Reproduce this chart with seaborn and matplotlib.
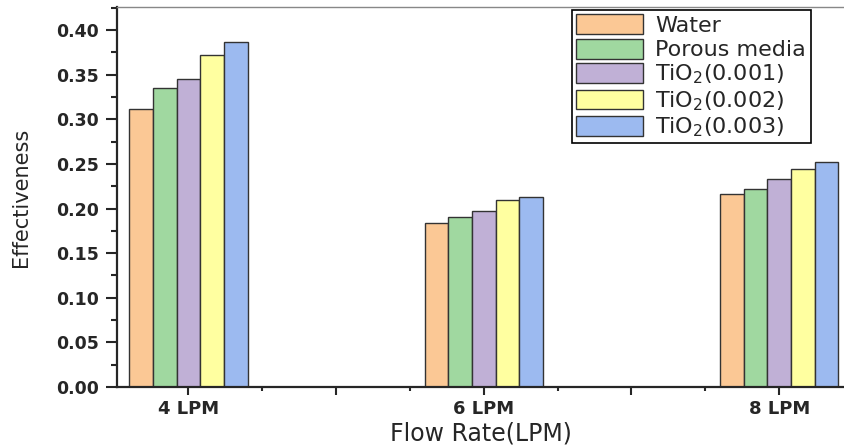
import matplotlib
matplotlib.use("Agg")
import matplotlib.pyplot as plt
import seaborn as sns
import pandas as pd
from matplotlib.ticker import FormatStrFormatter, MultipleLocator

# data
flow_rates = ['4 LPM', '6 LPM', '8 LPM']
fluids = ['Water', 'Porous media', r'TiO$_2$(0.001)', r'TiO$_2$(0.002)', r'TiO$_2$(0.003)']
water = [0.311, 0.184, 0.216]
porous = [0.335, 0.191, 0.222]
tio2_001 = [0.345, 0.197, 0.233]
tio2_002 = [0.372, 0.209, 0.244]
tio2_003 = [0.387, 0.213, 0.252]
colors = ['#FBC895', '#A0D8A0', '#C0B0D6', '#FFFFA0', '#9CBAF0']

values = [water, porous, tio2_001, tio2_002, tio2_003]
df = pd.DataFrame({
    'Flow': flow_rates * len(fluids),
    'Fluid': [f for f in fluids for _ in flow_rates],
    'Effectiveness': [v for series in values for v in series],
})

sns.set_style('ticks')
plt.rcParams['font.family'] = ['DejaVu Sans']
plt.rcParams['mathtext.default'] = 'regular'

fig = plt.figure(figsize=(8.45, 4.48), dpi=100)
ax = fig.add_axes([117 / 845, 61 / 448, 728 / 845, 380 / 448])

sns.barplot(data=df, x='Flow', y='Effectiveness', hue='Fluid', hue_order=fluids,
            palette=colors, width=0.4, gap=0, saturation=1,
            edgecolor='#333333', linewidth=1.0, ax=ax)

ax.set_xlim(-0.242, 2.223)
ax.set_ylim(0, 0.4258)

# axes look
ax.spines['right'].set_visible(False)
ax.spines['top'].set_color('#888888')
ax.spines['top'].set_linewidth(1.0)
ax.spines['left'].set_linewidth(1.6)
ax.spines['bottom'].set_linewidth(1.6)

ax.set_xticks([0, 0.5, 1, 1.5, 2], labels=['4 LPM', '', '6 LPM', '', '8 LPM'])
ax.set_xticks([0.25, 0.75, 1.25, 1.75], minor=True)
ax.yaxis.set_major_locator(MultipleLocator(0.05))
ax.yaxis.set_minor_locator(MultipleLocator(0.025))
ax.yaxis.set_major_formatter(FormatStrFormatter('%.2f'))

ax.tick_params(axis='y', which='major', direction='out', length=8, width=1.5,
               pad=5, labelsize=12.5)
ax.tick_params(axis='y', which='minor', direction='out', length=4, width=1.5)
ax.tick_params(axis='x', which='major', direction='out', length=6, width=1.5,
               pad=3, labelsize=13)
ax.tick_params(axis='x', which='minor', direction='out', length=3, width=1.5)
for lab in ax.get_xticklabels() + ax.get_yticklabels():
    lab.set_fontweight('bold')

ax.set_xlabel('Flow Rate(LPM)', fontsize=17)
ax.xaxis.set_label_coords(0.5, -0.09)
ax.set_ylabel('Effectiveness', fontsize=15)
ax.yaxis.set_label_coords(-0.118, 0.5)

handles, labels = ax.get_legend_handles_labels()
ax.legend(handles, labels, loc='upper left',
          bbox_to_anchor=(572 / 845, 1 - 10 / 448), bbox_transform=fig.transFigure,
          fontsize=16, frameon=True, fancybox=False, edgecolor='black',
          framealpha=1, borderpad=0.2, borderaxespad=0, handlelength=3.0,
          handleheight=1.0, handletextpad=0.55, labelspacing=0.12)
ax.get_legend().get_frame().set_linewidth(1.2)

fig.savefig('out.png', dpi=100)
